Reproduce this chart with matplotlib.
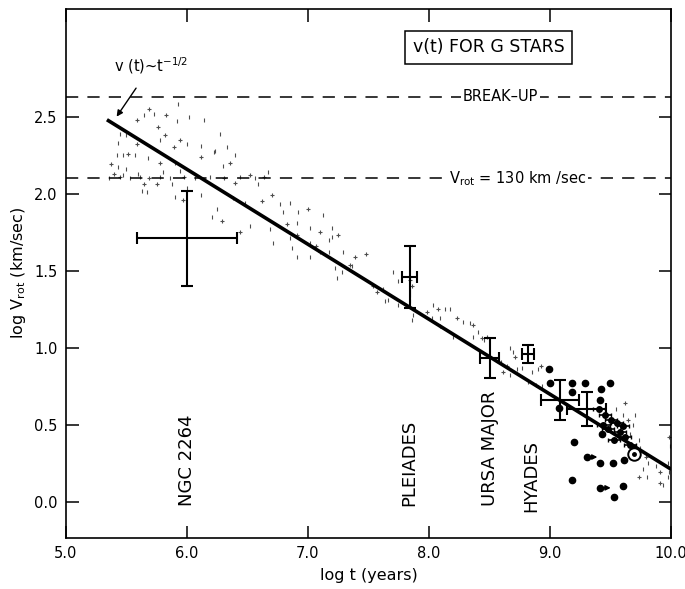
import numpy as np
import matplotlib
matplotlib.use("Agg")
import matplotlib.pyplot as plt

plt.rcParams['font.family'] = ['DejaVu Sans']

# power-law fit v(t) ~ t^-1/2
fit_logt = [5.34, 10.0]
fit_logv = [2.48, 0.21]

# reference speeds
breakup_logv = 2.63
v130_logv = 2.10

# cluster means with error bars: x, y, xerr, yerr
clus_x = [6.0, 7.84, 8.50, 8.82, 9.08, 9.30]
clus_y = [1.71, 1.46, 0.93, 0.96, 0.66, 0.60]
clus_xerr = [0.41, 0.06, 0.08, 0.05, 0.16, 0.16]
clus_yerr = [0.31, 0.20, 0.13, 0.06, 0.13, 0.11]

# individual Hyades-age stars
star_x = [8.99, 9.00, 9.07, 9.18, 9.29, 9.49, 9.18, 9.42, 9.41, 9.43, 9.20,
          9.30, 9.41, 9.52, 9.61, 9.18, 9.41, 9.60, 9.53]
star_y = [0.86, 0.77, 0.61, 0.77, 0.77, 0.77, 0.71, 0.73, 0.66, 0.44, 0.39,
          0.29, 0.25, 0.25, 0.27, 0.14, 0.09, 0.10, 0.03]
# stars with lower limits (arrows)
lim_x = [9.30, 9.41]
lim_y = [0.29, 0.09]

# dense group with small horizontal bars
grp_x = [9.40, 9.45, 9.50, 9.55, 9.48, 9.58, 9.62, 9.53, 9.66, 9.60, 9.44]
grp_y = [0.60, 0.56, 0.53, 0.51, 0.47, 0.45, 0.42, 0.40, 0.37, 0.49, 0.50]

sun_x, sun_y = 9.69, 0.31

# v sin i distribution of young stars
stip_x = [5.69, 5.73, 5.65, 5.83, 5.93, 6.02, 5.59, 5.92, 6.14, 5.76, 5.45, 5.50,
          5.82, 6.27, 5.78, 5.94, 6.00, 5.43, 5.59, 6.12, 6.33, 5.89, 5.42, 5.47,
          5.51, 5.57, 5.68, 6.12, 6.22, 6.40, 5.37, 5.43, 5.50, 5.78, 5.90, 6.30,
          6.36, 5.94, 5.80, 5.40, 5.47, 5.60, 5.65, 5.63, 5.67, 5.75, 5.88, 6.00,
          6.40, 5.90, 6.12, 5.97, 6.48,
          5.36, 5.45, 5.53, 5.61, 5.69, 5.78, 5.86, 5.98, 6.07, 6.19, 6.31, 6.44,
          6.56, 6.64,
          6.23, 6.67, 6.52, 6.59, 6.38, 6.70, 6.77, 6.85, 7.00, 6.92, 6.79, 6.62,
          6.25, 6.21, 6.29, 6.52, 6.69, 6.83, 6.91, 7.02, 7.10, 7.20, 7.12, 6.44,
          6.71, 6.85, 6.91, 6.87, 7.02, 7.07, 7.17, 7.20, 7.25, 6.91, 7.02, 7.10,
          7.17, 7.29, 7.39, 7.22, 7.36,
          7.48, 7.28, 7.24, 7.35, 7.70, 7.74, 7.54, 7.62, 7.66, 7.57, 7.64, 7.74,
          7.86, 7.84, 7.84, 7.84, 7.84, 8.03, 8.07, 8.13, 8.17, 7.98, 8.02, 8.09,
          8.23, 8.28, 8.34, 8.36, 7.87, 7.86, 8.09, 8.20, 8.40, 8.48, 8.45,
          8.36, 8.44, 8.67, 8.69, 8.71, 8.85, 8.90, 8.92, 8.77, 8.73, 8.64, 8.67,
          8.82, 8.88, 8.93, 8.59, 8.61,
          9.54, 9.60, 9.64, 9.68, 9.58, 9.51, 9.66, 9.73, 9.62, 9.70,
          9.74, 9.79, 9.81, 9.87, 9.91, 9.97, 9.77, 9.91, 9.93, 9.97, 9.98, 9.99,
          9.98, 9.73, 9.80]
stip_y = [2.55, 2.52, 2.51, 2.51, 2.58, 2.50, 2.48, 2.47, 2.48, 2.43, 2.39, 2.38,
          2.38, 2.39, 2.35, 2.35, 2.32, 2.33, 2.32, 2.31, 2.30, 2.30, 2.25, 2.25,
          2.26, 2.25, 2.23, 2.24, 2.27, 2.25, 2.19, 2.17, 2.16, 2.20, 2.20, 2.18,
          2.20, 2.15, 2.14, 2.13, 2.12, 2.13, 2.06, 2.02, 2.01, 2.06, 2.06, 2.04,
          2.07, 1.98, 1.99, 1.96, 1.94,
          2.10, 2.11, 2.10, 2.11, 2.10, 2.11, 2.10, 2.11, 2.10, 2.11, 2.10, 2.11,
          2.10, 2.11,
          2.28, 2.14, 2.12, 2.06, 1.97, 1.99, 1.93, 1.94, 1.90, 1.88, 1.88, 1.95,
          1.90, 1.85, 1.82, 1.79, 1.77, 1.80, 1.81, 1.78, 1.75, 1.78, 1.86, 1.75,
          1.68, 1.71, 1.73, 1.65, 1.68, 1.66, 1.70, 1.72, 1.73, 1.59, 1.59, 1.62,
          1.62, 1.62, 1.59, 1.52, 1.53,
          1.61, 1.49, 1.45, 1.54, 1.49, 1.43, 1.40, 1.38, 1.31, 1.36, 1.30, 1.28,
          1.40, 1.34, 1.30, 1.44, 1.37, 1.28, 1.25, 1.25, 1.25, 1.23, 1.19, 1.19,
          1.19, 1.17, 1.16, 1.15, 1.21, 1.18, 1.14, 1.07, 1.10, 1.07, 1.05,
          1.07, 1.06, 1.00, 0.97, 0.94, 0.84, 0.86, 0.88, 0.87, 0.86, 0.88, 0.82,
          0.78, 0.76, 0.75, 0.91, 0.84,
          0.60, 0.56, 0.53, 0.50, 0.48, 0.53, 0.44, 0.40, 0.64, 0.56,
          0.35, 0.29, 0.25, 0.23, 0.19, 0.16, 0.21, 0.12, 0.11, 0.25, 0.42, 0.36,
          0.19, 0.16, 0.16]

cluster_names = ['NGC 2264', 'PLEIADES', 'URSA MAJOR', 'HYADES']
name_x = [6.0, 7.84, 8.50, 8.84]
name_y = [-0.03, -0.03, -0.03, -0.07]

xticks = [5.0, 6.0, 7.0, 8.0, 9.0, 10.0]
yticks = [0.0, 0.5, 1.0, 1.5, 2.0, 2.5]

fig = plt.figure(figsize=(6.85, 5.89), dpi=100)
ax = fig.add_axes([0.096, 0.087, 0.884, 0.898])

# stippled scatter
ax.plot(stip_x, stip_y, ls='none', marker='|', ms=2.2, mew=0.8, color='0.3')
ax.plot(stip_x[::3], stip_y[::3], ls='none', marker='_', ms=2.2, mew=0.8, color='0.3')

# dashed reference levels
ax.axhline(breakup_logv, color='k', lw=1.1, dashes=(8, 6))
ax.axhline(v130_logv, color='k', lw=1.1, dashes=(8, 6))
ax.text(8.59, breakup_logv, 'BREAK\u2013UP', ha='center', va='center', fontsize=10.5,
        bbox=dict(fc='white', ec='none', pad=1.0))
ax.text(8.73, v130_logv, r'V$_{\rm rot}$ = 130 km /sec', ha='center', va='center',
        fontsize=10.5, bbox=dict(fc='white', ec='none', pad=1.0))

# fitted t^-1/2 line
ax.plot(fit_logt, fit_logv, color='k', lw=2.6, solid_capstyle='butt')
ax.annotate(r'v (t)~t$^{-1/2}$', xy=(fit_logt[0] + 0.08, fit_logv[0] + 0.02),
            xytext=(5.40, 2.83), fontsize=10.5, ha='left', va='center',
            arrowprops=dict(arrowstyle='-|>', color='k', lw=1.0,
                            shrinkA=8, shrinkB=0, mutation_scale=9))

# cluster error bars
ax.errorbar(clus_x, clus_y, xerr=clus_xerr, yerr=clus_yerr, fmt='none',
            ecolor='k', elinewidth=1.5, capsize=4.5, capthick=1.5)

# individual stars
ax.plot(star_x, star_y, 'o', color='k', ms=4.5)
ax.errorbar(grp_x, grp_y, xerr=0.05, fmt='o', color='k', ms=4, elinewidth=1.2,
            capsize=1.5)
for lx, ly in zip(lim_x, lim_y):
    ax.annotate('', xy=(lx + 0.09, ly), xytext=(lx, ly),
                arrowprops=dict(arrowstyle='-|>', color='k', lw=1.2,
                                shrinkA=0, shrinkB=0, mutation_scale=7))
ax.plot(sun_x, sun_y, 'o', ms=9, mfc='white', mec='k', mew=1.4)
ax.plot(sun_x, sun_y, 'o', ms=2.5, color='k')

# cluster names
for nm, nx, ny in zip(cluster_names, name_x, name_y):
    ax.text(nx, ny, nm, rotation=90, ha='center', va='bottom', fontsize=13)

ax.text(8.49, 2.95, 'v(t) FOR G STARS', ha='center', va='center', fontsize=12.5,
        bbox=dict(fc='white', ec='k', lw=1.1, boxstyle='square,pad=0.45'))

ax.set_xlim(5.0, 10.0)
ax.set_ylim(-0.234, 3.2)
ax.set_xticks(xticks)
ax.set_xticklabels(['%.1f' % t for t in xticks])
ax.set_yticks(yticks)
ax.set_yticklabels(['%.1f' % t for t in yticks])
ax.tick_params(direction='in', length=9, width=1.1, top=True, right=True,
               labelsize=10.5, pad=6)
for sp in ax.spines.values():
    sp.set_linewidth(1.2)

ax.set_xlabel('log t (years)', fontsize=11.5, labelpad=5)
ax.set_ylabel(r'log V$_{\rm rot}$ (km/sec)', fontsize=11.5, labelpad=4)

fig.savefig('out.png', dpi=100)
